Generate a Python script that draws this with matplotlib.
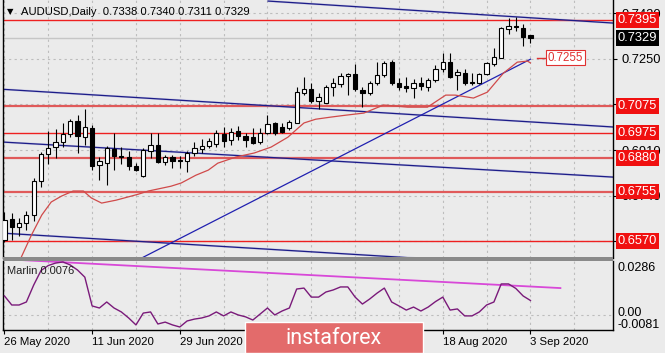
import numpy as np
import matplotlib
matplotlib.use("Agg")
import matplotlib.pyplot as plt
from matplotlib.patches import Rectangle
import matplotlib.transforms as mtransforms

plt.rcParams['font.family'] = ['Liberation Sans', 'DejaVu Sans']

# daily candles, 26 May 2020 .. 3 Sep 2020 (bar index 0..72)
opens = [0.6574, 0.6652, 0.6622, 0.6637, 0.6667, 0.6794, 0.6895, 0.6921, 0.6940, 0.6970,
         0.7018, 0.6958, 0.6992, 0.6854, 0.6861, 0.6913, 0.6887, 0.6884, 0.6850, 0.6813,
         0.6906, 0.6928, 0.6865, 0.6884, 0.6872, 0.6869, 0.6899, 0.6913, 0.6925, 0.6932,
         0.6970, 0.6947, 0.6981, 0.6962, 0.6958, 0.6940, 0.6973, 0.7011, 0.6996, 0.6992,
         0.7011, 0.7123, 0.7137, 0.7093, 0.7085, 0.7145, 0.7156, 0.7186, 0.7193, 0.7134,
         0.7123, 0.7160, 0.7190, 0.7238, 0.7160, 0.7149, 0.7141, 0.7160, 0.7145, 0.7171,
         0.7212, 0.7238, 0.7190, 0.7197, 0.7164, 0.7160, 0.7193, 0.7231, 0.7253, 0.7361,
         0.7373, 0.7365, 0.7338]
highs = [0.6680, 0.6675, 0.6656, 0.6682, 0.6805, 0.6902, 0.6981, 0.6988, 0.7011, 0.7025,
         0.7040, 0.7063, 0.7003, 0.6884, 0.6925, 0.6973, 0.6921, 0.6906, 0.6861, 0.6917,
         0.6973, 0.6973, 0.6891, 0.6891, 0.6887, 0.6906, 0.6940, 0.6951, 0.6955, 0.6984,
         0.6996, 0.6992, 0.6999, 0.6973, 0.6992, 0.6992, 0.7040, 0.7014, 0.7011, 0.7022,
         0.7145, 0.7182, 0.7160, 0.7123, 0.7152, 0.7179, 0.7197, 0.7197, 0.7231, 0.7145,
         0.7167, 0.7238, 0.7242, 0.7246, 0.7179, 0.7182, 0.7175, 0.7182, 0.7179, 0.7227,
         0.7272, 0.7272, 0.7212, 0.7212, 0.7197, 0.7197, 0.7238, 0.7290, 0.7369, 0.7402,
         0.7406, 0.7380, 0.7340]
lows = [0.6565, 0.6574, 0.6588, 0.6611, 0.6645, 0.6772, 0.6858, 0.6880, 0.6921, 0.6958,
        0.6899, 0.6928, 0.6835, 0.6798, 0.6779, 0.6835, 0.6858, 0.6835, 0.6831, 0.6809,
        0.6880, 0.6861, 0.6854, 0.6843, 0.6843, 0.6828, 0.6887, 0.6899, 0.6917, 0.6921,
        0.6921, 0.6928, 0.6947, 0.6921, 0.6932, 0.6932, 0.6970, 0.6966, 0.6973, 0.6984,
        0.7011, 0.7115, 0.7085, 0.7063, 0.7085, 0.7111, 0.7145, 0.7115, 0.7130, 0.7070,
        0.7115, 0.7152, 0.7182, 0.7152, 0.7134, 0.7126, 0.7104, 0.7134, 0.7130, 0.7164,
        0.7201, 0.7179, 0.7134, 0.7152, 0.7152, 0.7156, 0.7190, 0.7223, 0.7253, 0.7343,
        0.7354, 0.7298, 0.7311]
closes = [0.6648, 0.6622, 0.6637, 0.6667, 0.6794, 0.6895, 0.6917, 0.6940, 0.6970, 0.7018,
          0.6962, 0.6996, 0.6850, 0.6869, 0.6917, 0.6887, 0.6884, 0.6850, 0.6835, 0.6910,
          0.6928, 0.6865, 0.6884, 0.6869, 0.6870, 0.6899, 0.6917, 0.6925, 0.6943, 0.6973,
          0.6943, 0.6977, 0.6962, 0.6947, 0.6936, 0.6973, 0.7007, 0.6973, 0.6977, 0.7014,
          0.7126, 0.7137, 0.7093, 0.7108, 0.7145, 0.7160, 0.7186, 0.7193, 0.7137, 0.7123,
          0.7160, 0.7190, 0.7235, 0.7160, 0.7145, 0.7141, 0.7160, 0.7149, 0.7171, 0.7212,
          0.7238, 0.7182, 0.7201, 0.7160, 0.7160, 0.7193, 0.7235, 0.7257, 0.7365, 0.7373,
          0.7369, 0.7332, 0.7329]

# red moving average, vertices (bar index, price)
ma_x = [2.3, 3.7, 5.1, 6.4, 7.8, 9.4, 10.8, 11.9, 13.3, 15.3, 18.3, 19.7, 22.8, 24.2,
        26.2, 27.9, 29.2, 31.7, 34.2, 36.5, 38.8, 40.2, 41.0, 42.6, 44.7, 46.7, 49.2,
        51.9, 53.6, 55.2, 57.9, 60.4, 61.7, 64.2, 66.1, 68.3, 70.2, 71.6, 72.0]
ma_y = [0.6510, 0.6593, 0.6667, 0.6716, 0.6738, 0.6757, 0.6757, 0.6731, 0.6712, 0.6723,
        0.6745, 0.6757, 0.6775, 0.6787, 0.6816, 0.6835, 0.6861, 0.6884, 0.6899, 0.6921,
        0.6958, 0.6992, 0.7011, 0.7025, 0.7033, 0.7040, 0.7048, 0.7078, 0.7074, 0.7070,
        0.7070, 0.7115, 0.7115, 0.7104, 0.7126, 0.7197, 0.7238, 0.7242, 0.7235]

# Marlin oscillator, one value per bar
marlin = [0.0100, 0.0052, 0.0052, 0.0068, 0.0158, 0.0235, 0.0262, 0.0275, 0.0281, 0.0265,
          0.0238, 0.0200, 0.0047, 0.0036, 0.0068, 0.0036, 0.0015, -0.0017, -0.0054, 0.0009,
          0.0015, -0.0049, -0.0039, -0.0054, -0.0065, -0.0033, -0.0023, -0.0017, -0.0006, 0.0015,
          -0.0006, 0.0015, -0.0001, -0.0011, -0.0028, 0.0004, 0.0036, -0.0001, 0.0020, 0.0036,
          0.0137, 0.0142, 0.0094, 0.0094, 0.0121, 0.0132, 0.0148, 0.0148, 0.0094, 0.0057,
          0.0084, 0.0115, 0.0142, 0.0068, 0.0047, 0.0025, 0.0041, 0.0020, 0.0041, 0.0070,
          0.0094, 0.0025, 0.0031, -0.0006, -0.0006, 0.0015, 0.0052, 0.0068, 0.0164, 0.0164,
          0.0140, 0.0100, 0.0076]

# trend lines: (x0, y0, x1, y1) in bar index / price
channel_lines = [(36.1, 0.7466, 83.3, 0.7384),
                 (-0.4, 0.7137, 83.3, 0.6996),
                 (-0.4, 0.6940, 83.3, 0.6809),
                 (-0.4, 0.6600, 83.3, 0.6462)]
support_line = (19.0, 0.6510, 72.0, 0.7249)
marlin_line = (2.3, 0.0291, 76.1, 0.0142)

levels = [0.7395, 0.7075, 0.6975, 0.6880, 0.6755, 0.6570]
level_thick = [False, True, False, True, True, False]
last_price = 0.7329
target = 0.7255

# price grid; labels hidden under the level boxes are left blank
price_ticks = [0.7420, 0.7250, 0.7080, 0.6910, 0.6740, 0.6570]
price_labels = ['0.7420', '0.7250', '', '0.6910', '0.6740', '']
date_idx = [0, 12, 24, 36, 48, 60, 72]
# 15 Jul and 31 Jul sit under the watermark badge
date_labels = ['26 May 2020', '11 Jun 2020', '29 Jun 2020', '', '', '18 Aug 2020', '3 Sep 2020']

W, H = 665, 353
bg = '#ebebeb'
fig = plt.figure(figsize=(W / 100, H / 100), dpi=100, facecolor=bg)

ax = fig.add_axes([3 / W, 1 - 258 / H, 610 / W, 258 / H], facecolor=bg)
axi = fig.add_axes([3 / W, 1 - 330 / H, 610 / W, 69 / H], facecolor=bg)

xlim = (-0.2, 83.3)
for a in (ax, axi):
    a.set_xlim(*xlim)
    for gx in range(0, 84, 6):
        a.axvline(gx, color='#bdbdbd', lw=0.8, ls=(0, (2, 3)), zorder=0)
ax.set_ylim(0.6507, 0.7470)
axi.set_ylim(-0.0081, 0.0286)

for p in price_ticks:
    ax.axhline(p, color='#bdbdbd', lw=0.8, ls=(0, (2, 3)), zorder=0)
axi.axhline(0.0, color='#bdbdbd', lw=0.8, ls=(0, (2, 3)), zorder=0)

# levels
for lv, thick in zip(levels, level_thick):
    if thick:
        ax.axhline(lv, color='#e05a5a', lw=1.6, zorder=1)
    else:
        ax.axhline(lv, color='#ee2020', lw=1.0, zorder=1)
ax.axhline(last_price, color='#c6c6c6', lw=1.0, zorder=1)

# trend lines
for x0, y0, x1, y1 in channel_lines:
    ax.plot([x0, x1], [y0, y1], color='#8a8ad0', lw=1.6, alpha=0.35, zorder=2)
    ax.plot([x0, x1], [y0, y1], color='#1c1c88', lw=0.9, zorder=2)
ax.plot([support_line[0], support_line[2]], [support_line[1], support_line[3]],
        color='#2020b0', lw=0.9, zorder=2)
ax.plot(ma_x, ma_y, color='#d04a4a', lw=0.9, zorder=2)

# candles
idx = np.arange(len(opens))
o = np.array(opens)
c = np.array(closes)
ax.vlines(idx, lows, highs, color='black', lw=0.8, zorder=3)
up = c >= o
body_lo = np.minimum(o, c)
body_h = np.maximum(np.abs(c - o), 0.00015)
ax.bar(idx[up], body_h[up], bottom=body_lo[up], width=0.58, color='white',
       edgecolor='black', lw=0.8, zorder=4)
ax.bar(idx[~up], body_h[~up], bottom=body_lo[~up], width=0.58, color='black',
       edgecolor='black', lw=0.8, zorder=4)

# target label
ax.plot([72.9, 74.2], [target, target], color='#e03030', lw=1.0, zorder=5)
ax.text(74.35, target, '0.7255', color='#e03030', fontsize=8.3, va='center', ha='left',
        zorder=6, bbox=dict(facecolor='white', edgecolor='#e03030', lw=0.8, pad=1.2))

# right price axis
ax.yaxis.tick_right()
ax.set_yticks(price_ticks)
ax.set_yticklabels(price_labels)
ax.tick_params(axis='y', length=3, width=0.8, pad=3, labelsize=9.3, colors='black')
ax.set_xticks([])
ytrans = mtransforms.blended_transform_factory(ax.transAxes, ax.transData)
for lv in levels:
    ax.text(1.0075, lv, '%.4f' % lv, transform=ytrans, color='white', fontsize=9.3,
            va='center', ha='left', clip_on=False, zorder=10,
            bbox=dict(facecolor='#f01010', edgecolor='none', pad=1.3))
ax.text(1.0075, last_price, '%.4f' % last_price, transform=ytrans, color='white',
        fontsize=9.3, va='center', ha='left', clip_on=False, zorder=10,
        bbox=dict(facecolor='black', edgecolor='none', pad=1.3))

ax.text(0.007, 0.955, '\u25bc', transform=ax.transAxes, fontsize=6, va='center', ha='left',
        family='DejaVu Sans')
ax.text(0.029, 0.955, 'AUDUSD,Daily  0.7338 0.7340 0.7311 0.7329', transform=ax.transAxes,
        fontsize=8.1, va='center', ha='left')

# indicator
axi.plot(idx, marlin, color='#7a1a7a', lw=1.0, zorder=3)
axi.plot([marlin_line[0], marlin_line[2]], [marlin_line[1], marlin_line[3]],
         color='#d848d8', lw=1.3, zorder=2)
axi.text(0.007, 0.86, 'Marlin 0.0076', transform=axi.transAxes, fontsize=8, va='center',
         ha='left', color='#202020')
axi.set_yticks([])
itrans = mtransforms.blended_transform_factory(axi.transAxes, axi.transData)
axi.text(1.0075, 0.0280, '0.0286', transform=itrans, fontsize=9, va='top', ha='left',
         clip_on=False)
axi.text(1.0075, 0.0010, '0.00', transform=itrans, fontsize=9, va='center', ha='left',
         clip_on=False)
axi.text(1.0075, -0.0085, '-0.0081', transform=itrans, fontsize=9, va='bottom', ha='left',
         clip_on=False)
axi.set_xticks(date_idx)
axi.set_xticklabels(date_labels, ha='left')
axi.tick_params(axis='x', length=3, width=0.8, pad=2, labelsize=8.2)

for a in (ax, axi):
    a.spines['top'].set_visible(False)
    for s in ('left', 'right', 'bottom'):
        a.spines[s].set_color('black')
        a.spines[s].set_linewidth(1.0)
ax.spines['bottom'].set_visible(False)

# panel separator
fig.add_artist(Rectangle((3 / W, 1 - 260.5 / H), 610 / W, 3.2 / H, transform=fig.transFigure,
                         facecolor='#8a8a8a', edgecolor='none'))

# watermark badge
fig.add_artist(Rectangle((245 / W, 0), 178 / W, 31 / H, transform=fig.transFigure,
                         facecolor='#e36b6b', edgecolor='white', lw=1.0, zorder=5))
fig.text(334 / W, 14 / H, 'instaforex', color='white', fontsize=15.5, ha='center',
         va='center', family='Roboto', zorder=6)

fig.savefig('out.png', dpi=100, facecolor=bg)
